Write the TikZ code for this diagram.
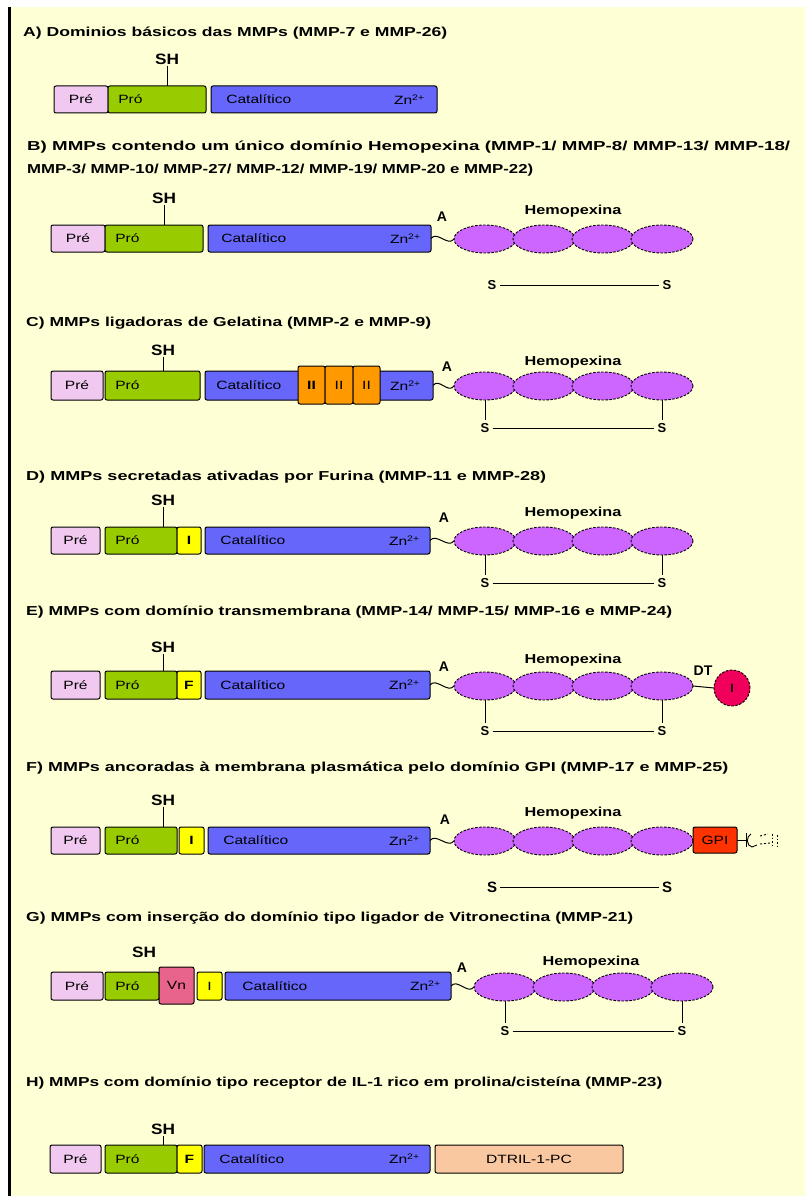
\documentclass[tikz,border=0pt]{standalone}
\usepackage{fontspec}
\setmainfont{Liberation Sans}
\usetikzlibrary{shapes.geometric}

\definecolor{panel}{RGB}{255,255,214}
\definecolor{preC}{RGB}{240,200,240}
\definecolor{proC}{RGB}{153,204,0}
\definecolor{catC}{RGB}{102,102,250}
\definecolor{furC}{RGB}{255,255,0}
\definecolor{fibC}{RGB}{255,153,0}
\definecolor{vnC}{RGB}{232,100,140}
\definecolor{hemoC}{RGB}{204,102,255}
\definecolor{tmC}{RGB}{240,0,90}
\definecolor{gpiC}{RGB}{255,51,0}
\definecolor{ilC}{RGB}{250,200,160}

% one domain box of given extent (name, style, x1, x2, top, bottom)
\newcommand\mmpbox[6]{%
  \pgfmathsetmacro\mmpw{#4-#3}%
  \pgfmathsetmacro\mmph{#6-#5}%
  \node[#2, anchor=north west, minimum width=\mmpw pt, minimum height=\mmph pt] (#1) at (#3,#5) {};}

% stretched title text of a given width
\newcommand\ttl[2]{\resizebox{#1pt}{\height}{#2}}

\tikzset{
  dom/.style={rectangle, draw=black, line width=1pt, rounded corners=2pt, inner sep=0pt, outer sep=0pt},
  prebox/.style={dom, fill=preC},
  probox/.style={dom, fill=proC},
  catbox/.style={dom, fill=catC},
  furbox/.style={dom, fill=furC},
  fibbox/.style={dom, fill=fibC},
  vnbox/.style={dom, fill=vnC},
  gpibox/.style={dom, fill=gpiC},
  ilbox/.style={dom, fill=ilC},
  hemo/.style={ellipse, draw=black, line width=0.9pt, dash pattern=on 2.5pt off 1.5pt,
    fill=hemoC, minimum width=62pt, minimum height=28pt, inner sep=0pt, outer sep=0pt},
  tm/.style={circle, draw=black, line width=0.9pt, dash pattern=on 2.5pt off 1.5pt,
    fill=tmC, minimum size=36pt, inner sep=0pt, outer sep=0pt,
    font=\bfseries\fontsize{12}{13}\selectfont},
  lbl/.style={inner sep=0pt, font=\fontsize{12}{13}\selectfont, xscale=1.3},
  title/.style={anchor=west, inner sep=0pt, font=\bfseries\fontsize{13}{15}\selectfont},
  shl/.style={inner sep=1pt, font=\bfseries\fontsize{15}{16}\selectfont, xscale=1.15},
  hingel/.style={inner sep=1pt, font=\bfseries\fontsize{14}{15}\selectfont},
  hemol/.style={inner sep=0pt, font=\bfseries\fontsize{13}{14}\selectfont, xscale=1.25},
  sl/.style={inner sep=3pt, font=\bfseries\fontsize{13}{14}\selectfont},
  slbig/.style={inner sep=3pt, font=\bfseries\fontsize{15}{16}\selectfont},
  stem/.style={draw=black, line width=1pt},
  bond/.style={draw=black, line width=1pt},
  hinge/.style={draw=black, line width=1pt},
}

\newcommand\zn{Zn\textsuperscript{2+}}

\begin{document}
\begin{tikzpicture}[x=1pt,y=-1pt]
\useasboundingbox (0,0) rectangle (805,1196);
\fill[white] (0,0) rectangle (805,1196);
\fill[panel] (10,7) rectangle (805,1196);
\draw[line width=2.5pt] (9.5,7) -- (9.5,1196);

% ---------------- A
\node[title] (ta) at (23,33) {\ttl{424}{A) Dominios básicos das MMPs (MMP-7 e MMP-26)}};
\mmpbox{apre}{prebox}{54}{108}{86}{113}
\mmpbox{apro}{probox}{108}{206}{86}{113}
\mmpbox{acat}{catbox}{211}{437}{86}{113}
\node[lbl] (aprel) at (apre) {Pré};
\node[lbl, anchor=west] (aprol) at ([xshift=10pt]apro.west) {Pró};
\node[lbl, anchor=west] (acatl) at ([xshift=15pt]acat.west) {Catalítico};
\node[lbl, anchor=east] (aznl) at ([xshift=-12pt]acat.east) {\zn};
\node[shl] (ash) at (167,59) {SH};
\draw[stem] (ash.south) -- (ash.south |- apro.north);

% ---------------- B
\node[title] (tb1) at (27,147) {\ttl{763}{B) MMPs contendo um único domínio Hemopexina (MMP-1/ MMP-8/ MMP-13/ MMP-18/}};
\node[title] (tb2) at (27,170) {\ttl{506}{MMP-3/ MMP-10/ MMP-27/ MMP-12/ MMP-19/ MMP-20 e MMP-22)}};
\mmpbox{bpre}{prebox}{51}{105}{225}{252}
\mmpbox{bpro}{probox}{105}{203}{225}{252}
\mmpbox{bcat}{catbox}{208}{431}{225}{252}
\node[lbl] (bprel) at (bpre) {Pré};
\node[lbl, anchor=west] (bprol) at ([xshift=10pt]bpro.west) {Pró};
\node[lbl, anchor=west] (bcatl) at ([xshift=13pt]bcat.west) {Catalítico};
\node[lbl, anchor=east] (bznl) at ([xshift=-10pt]bcat.east) {\zn};
\node[shl] (bsh) at (164,198) {SH};
\draw[stem] (bsh.south) -- (bsh.south |- bpro.north);
\foreach \i/\cx in {1/485,2/544,3/603,4/662} \node[hemo] (b\i) at (\cx,239) {};
\draw[hinge] (bcat.east) .. controls +(6,-8) and +(-6,8) .. (b1.west);
\node[hingel] (bh) at (442,217) {A};
\node[hemol] (bhl) at (573,211) {Hemopexina};
\node[sl] (bs1) at (492,285) {S};
\node[sl] (bs2) at (667,285) {S};
\draw[bond] (bs1) -- (bs2);

% ---------------- C
\node[title] (tc) at (26,323) {\ttl{405}{C) MMPs ligadoras de Gelatina (MMP-2 e MMP-9)}};
\mmpbox{cpre}{prebox}{51}{103}{371}{400}
\mmpbox{cpro}{probox}{105}{200}{371}{400}
\mmpbox{ccat}{catbox}{205}{300}{371}{400}
\mmpbox{czn}{catbox}{378}{433}{371}{400}
\mmpbox{cf1}{fibbox}{298}{325}{366}{404}
\mmpbox{cf2}{fibbox}{325}{353}{366}{404}
\mmpbox{cf3}{fibbox}{353}{380}{366}{404}
\node[lbl] (cprel) at (cpre) {Pré};
\node[lbl, anchor=west] (cprol) at ([xshift=10pt]cpro.west) {Pró};
\node[lbl, anchor=west] (ccatl) at ([xshift=11pt]ccat.west) {Catalítico};
\node[lbl] (cf1l) at (cf1) {\textbf{II}};
\node[lbl] (cf2l) at (cf2) {II};
\node[lbl] (cf3l) at (cf3) {II};
\node[lbl] (cznl) at (czn) {\zn};
\node[shl] (csh) at (163,350) {SH};
\draw[stem] (csh.south) -- (csh.south |- cpro.north);
\foreach \i/\cx in {1/485,2/544,3/603,4/662} \node[hemo] (c\i) at (\cx,386) {};
\draw[hinge] (czn.east) .. controls +(6,-8) and +(-6,8) .. (c1.west);
\node[hingel] (ch) at (447,367) {A};
\node[hemol] (chl) at (573,362) {Hemopexina};
\node[sl] (cs1) at (485,428) {S};
\node[sl] (cs2) at (662,428) {S};
\draw[stem] (c1.south) -- (cs1.north);
\draw[stem] (c4.south) -- (cs2.north);
\draw[bond] (cs1) -- (cs2);

% ---------------- D
\node[title] (td) at (26,477) {\ttl{520}{D) MMPs secretadas ativadas por Furina (MMP-11 e MMP-28)}};
\mmpbox{dpre}{prebox}{51}{100}{527}{554}
\mmpbox{dpro}{probox}{105}{177}{527}{554}
\mmpbox{dfur}{furbox}{177}{201}{527}{554}
\mmpbox{dcat}{catbox}{205}{430}{527}{554}
\node[lbl] (dprel) at (dpre) {Pré};
\node[lbl, anchor=west] (dprol) at ([xshift=10pt]dpro.west) {Pró};
\node[lbl] (dfurl) at (dfur) {\textbf{I}};
\node[lbl, anchor=west] (dcatl) at ([xshift=15pt]dcat.west) {Catalítico};
\node[lbl, anchor=east] (dznl) at ([xshift=-10pt]dcat.east) {\zn};
\node[shl] (dsh) at (163,500) {SH};
\draw[stem] (dsh.south) -- (dsh.south |- dpro.north);
\foreach \i/\cx in {1/485,2/544,3/603,4/662} \node[hemo] (d\i) at (\cx,541) {};
\draw[hinge] (dcat.east) .. controls +(6,-8) and +(-6,8) .. (d1.west);
\node[hingel] (dh) at (444,518) {A};
\node[hemol] (dhl) at (573,513) {Hemopexina};
\node[sl] (ds1) at (485,583) {S};
\node[sl] (ds2) at (662,583) {S};
\draw[stem] (d1.south) -- (ds1.north);
\draw[stem] (d4.south) -- (ds2.north);
\draw[bond] (ds1) -- (ds2);

% ---------------- E
\node[title] (te) at (26,612) {\ttl{646}{E) MMPs com domínio transmembrana (MMP-14/ MMP-15/ MMP-16 e MMP-24)}};
\mmpbox{epre}{prebox}{51}{100}{671}{699}
\mmpbox{epro}{probox}{105}{177}{671}{699}
\mmpbox{efur}{furbox}{177}{201}{671}{699}
\mmpbox{ecat}{catbox}{205}{430}{671}{699}
\node[lbl] (eprel) at (epre) {Pré};
\node[lbl, anchor=west] (eprol) at ([xshift=10pt]epro.west) {Pró};
\node[lbl] (efurl) at (efur) {\textbf{F}};
\node[lbl, anchor=west] (ecatl) at ([xshift=15pt]ecat.west) {Catalítico};
\node[lbl, anchor=east] (eznl) at ([xshift=-10pt]ecat.east) {\zn};
\node[shl] (esh) at (163,647) {SH};
\draw[stem] (esh.south) -- (esh.south |- epro.north);
\foreach \i/\cx in {1/485,2/544,3/603,4/662} \node[hemo] (e\i) at (\cx,686) {};
\draw[hinge] (ecat.east) .. controls +(6,-8) and +(-6,8) .. (e1.west);
\node[hingel] (eh) at (444,667) {A};
\node[hemol] (ehl) at (573,660) {Hemopexina};
\node[tm] (etm) at (732,688) {I};
\node[hingel] (edt) at (703,671) {DT};
\draw[bond] (e4.east) -- (etm.west);
\node[sl] (es1) at (485,731) {S};
\node[sl] (es2) at (662,731) {S};
\draw[stem] (e1.south) -- (es1.north);
\draw[stem] (e4.south) -- (es2.north);
\draw[bond] (es1) -- (es2);

% ---------------- F
\node[title] (tf) at (26,768) {\ttl{702}{F) MMPs ancoradas à membrana plasmática pelo domínio GPI (MMP-17 e MMP-25)}};
\mmpbox{fpre}{prebox}{51}{100}{827}{854}
\mmpbox{fpro}{probox}{105}{177}{827}{854}
\mmpbox{ffur}{furbox}{179}{204}{827}{854}
\mmpbox{fcat}{catbox}{208}{430}{827}{854}
\node[lbl] (fprel) at (fpre) {Pré};
\node[lbl, anchor=west] (fprol) at ([xshift=10pt]fpro.west) {Pró};
\node[lbl] (ffurl) at (ffur) {\textbf{I}};
\node[lbl, anchor=west] (fcatl) at ([xshift=15pt]fcat.west) {Catalítico};
\node[lbl, anchor=east] (fznl) at ([xshift=-10pt]fcat.east) {\zn};
\node[shl] (fsh) at (163,800) {SH};
\draw[stem] (fsh.south) -- (fsh.south |- fpro.north);
\foreach \i/\cx in {1/485,2/544,3/603,4/662} \node[hemo] (f\i) at (\cx,841) {};
\draw[hinge] (fcat.east) .. controls +(6,-8) and +(-6,8) .. (f1.west);
\node[hingel] (fh) at (445,820) {A};
\node[hemol] (fhl) at (573,813) {Hemopexina};
\mmpbox{fgpi}{gpibox}{693}{737}{827}{853}
\node[lbl] (fgpil) at (fgpi) {GPI};
\coordinate (fanc) at (746,840);
\draw[bond] (fgpi.east) -- (fanc);
\draw[bond] ([yshift=-7pt]fanc) -- ([yshift=7pt]fanc);
% lipid anchor squiggle
\draw[line width=0.9pt] (751,834) .. controls (746,836) and (746,846) .. (752,847)
  -- (757,845);
\draw[line width=0.9pt, dash pattern=on 2pt off 2pt] (760,836) -- (768,834) (760,844) -- (770,843);
\draw[line width=0.9pt, dash pattern=on 1.5pt off 2pt] (772,834) -- (772,846) (777,835) -- (777,846);
\node[slbig] (fs1) at (492,887) {S};
\node[slbig] (fs2) at (667,887) {S};
\draw[bond] (fs1) -- (fs2);

% ---------------- G
\node[title] (tg) at (26,918) {\ttl{607}{G) MMPs com inserção do domínio tipo ligador de Vitronectina (MMP-21)}};
\mmpbox{gpre}{prebox}{51}{103}{972}{1000}
\mmpbox{gpro}{probox}{105}{159}{972}{1000}
\mmpbox{gvn}{vnbox}{159}{194}{967}{1004}
\mmpbox{gfur}{furbox}{197}{222}{972}{1000}
\mmpbox{gcat}{catbox}{225}{451}{972}{1000}
\node[lbl] (gprel) at (gpre) {Pré};
\node[lbl, anchor=west] (gprol) at ([xshift=10pt]gpro.west) {Pró};
\node[lbl] (gvnl) at (gvn) {Vn};
\node[lbl] (gfurl) at (gfur) {I};
\node[lbl, anchor=west] (gcatl) at ([xshift=17pt]gcat.west) {Catalítico};
\node[lbl, anchor=east] (gznl) at ([xshift=-10pt]gcat.east) {\zn};
\node[shl] (gsh) at (144,952) {SH};
\foreach \i/\cx in {1/505,2/564,3/623,4/682} \node[hemo] (g\i) at (\cx,987) {};
\draw[hinge] (gcat.east) .. controls +(6,-8) and +(-6,8) .. (g1.west);
\node[hingel] (gh) at (462,968) {A};
\node[hemol] (ghl) at (591,962) {Hemopexina};
\node[sl] (gs1) at (505,1031) {S};
\node[sl] (gs2) at (682,1031) {S};
\draw[stem] (g1.south) -- (gs1.north);
\draw[stem] (g4.south) -- (gs2.north);
\draw[bond] (gs1) -- (gs2);

% ---------------- H
\node[title] (th) at (26,1083) {\ttl{636}{H) MMPs com domínio tipo receptor de IL-1 rico em prolina/cisteína (MMP-23)}};
\mmpbox{hpre}{prebox}{50}{101}{1145}{1173}
\mmpbox{hpro}{probox}{105}{177}{1145}{1173}
\mmpbox{hfur}{furbox}{177}{202}{1145}{1173}
\mmpbox{hcat}{catbox}{204}{430}{1145}{1173}
\mmpbox{hil}{ilbox}{435}{623}{1145}{1173}
\node[lbl] (hprel) at (hpre) {Pré};
\node[lbl, anchor=west] (hprol) at ([xshift=10pt]hpro.west) {Pró};
\node[lbl] (hfurl) at (hfur) {\textbf{F}};
\node[lbl, anchor=west] (hcatl) at ([xshift=15pt]hcat.west) {Catalítico};
\node[lbl, anchor=east] (hznl) at ([xshift=-10pt]hcat.east) {\zn};
\node[lbl] (hill) at (hil) {DTRIL-1-PC};
\node[shl] (hsh) at (163,1129) {SH};
\draw[stem] (hsh.south) -- (hsh.south |- hpro.north);
\end{tikzpicture}
\end{document}
